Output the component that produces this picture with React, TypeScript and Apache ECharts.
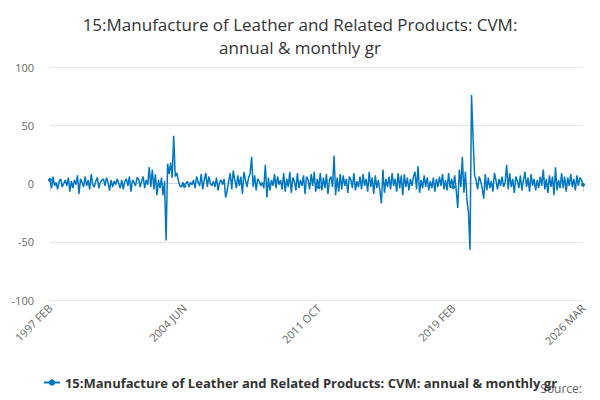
import React, { useEffect, useRef } from "react";
import * as echarts from "echarts";

const MONTHS = ["JAN","FEB","MAR","APR","MAY","JUN","JUL","AUG","SEP","OCT","NOV","DEC"];
const categories: string[] = [];
for (let y = 1997, m = 1; y < 2026 || (y === 2026 && m <= 2); ) {
  categories.push(`${y} ${MONTHS[m]}`);
  m++; if (m === 12) { m = 0; y++; }
}

const values: number[] = [
  3,-4,6,-2,1,-5,2,4,-3,0,3,
  -2,5,-7,2,-4,3,-1,7,-9,4,1,-3,
  6,-2,3,-5,8,-1,-3,2,5,-4,1,3,
  4,-2,5,1,-6,3,-3,2,-1,4,0,-4,
  3,-5,2,4,-2,6,-7,3,1,-2,5,4,
  -3,2,6,-4,3,-1,14,-3,12,-5,8,-10,
  3,-4,5,-10,2,-49,17,8,18,5,41,6,
  9,3,-2,-3,1,-2,0,2,-3,1,-1,3,
  -4,6,1,-2,8,-5,3,9,-3,6,0,-2,
  2,-3,5,-6,1,3,-1,4,-12,-6,2,9,
  -5,11,3,-4,7,-2,6,-9,10,3,-3,5,
  8,23,-3,7,-6,4,2,-2,1,-4,16,-12,
  5,-6,3,-2,8,-4,6,-1,3,-5,9,-7,
  4,-3,10,-8,5,2,-6,9,-4,3,-2,7,
  -9,6,3,-5,8,-2,10,-7,4,-3,9,-6,
  5,-4,8,-9,3,6,-3,24,-10,5,-7,8,
  -5,7,-2,4,-8,6,3,-4,9,-6,2,-3,
  6,-5,8,-2,4,-7,10,-3,5,-9,7,-4,
  3,-6,-17,12,-8,4,-3,6,-5,9,-2,4,
  -7,9,-4,7,-10,8,-3,5,-6,4,-2,6,
  10,-5,15,-8,3,-4,7,-3,5,-6,2,-4,
  5,-7,4,-3,6,-2,8,-5,3,-6,9,-4,
  4,-3,7,-6,-21,12,-3,23,-8,10,-14,-25,
  -57,76,40,7,3,-5,6,2,-4,-13,8,-6,
  5,-4,2,-7,9,3,-5,4,-2,6,-3,1,
  16,-5,9,-3,4,-8,6,2,-4,7,-6,3,
  10,-3,5,-7,8,-2,4,-6,3,-4,6,-2,
  12,-5,4,-8,7,-3,6,-10,14,-6,3,-4,
  9,-4,6,-7,5,-2,8,-3,4,-6,7,-2,
  5,3,-1,
];

const SERIES = "15:Manufacture of Leather and Related Products: CVM: annual & monthly gr";
const TITLE = "15:Manufacture of Leather and Related Products: CVM:\nannual & monthly gr";
const labelIdx = [0, 88, 176, 264, categories.length - 1];

export default function App() {
  const ref = useRef<HTMLDivElement>(null);
  useEffect(() => {
    const chart = echarts.init(ref.current!, null, { renderer: "svg" });
    chart.setOption({
      animation: false,
      title: {
        text: TITLE, left: "center", top: 0,
        textStyle: { fontFamily: "Open Sans", fontSize: 17, fontWeight: "normal", color: "#333", lineHeight: 23 },
      },
      grid: { left: 42, right: 9, top: 59, bottom: 100 },
      xAxis: {
        type: "category", data: categories, boundaryGap: false,
        axisLine: { lineStyle: { color: "#ccd6eb" } },
        axisTick: { show: true, interval: (i: number) => labelIdx.includes(i), length: 8, lineStyle: { color: "#ccd6eb" } },
        axisLabel: { interval: (i: number) => labelIdx.includes(i), rotate: 45, color: "#666", fontSize: 11, fontFamily: "Open Sans", margin: 6 },
      },
      yAxis: {
        type: "value", min: -100, max: 100, interval: 50,
        axisLine: { show: false }, axisTick: { show: false },
        splitLine: { lineStyle: { color: "#e6e6e6" } },
        axisLabel: { color: "#666", fontSize: 11, fontFamily: "Open Sans", margin: 16 },
      },
      legend: {
        bottom: 6, left: "center", itemWidth: 16, itemHeight: 8,
        textStyle: { fontFamily: "Open Sans", fontSize: 13, fontWeight: "bold", color: "#333" },
      },
      graphic: [{ type: "text", right: 10, top: 374, style: { text: "Source:", fontFamily: "Open Sans", fontSize: 12, fill: "#666" } }],
      series: [{
        name: SERIES, type: "line", data: values,
        color: "#0077c0", symbol: "circle", symbolSize: 4, showSymbol: true,
        lineStyle: { width: 1.5 },
      }],
    });
    return () => chart.dispose();
  }, []);
  return <div ref={ref} style={{ width: 584, height: 392 }} />;
}
